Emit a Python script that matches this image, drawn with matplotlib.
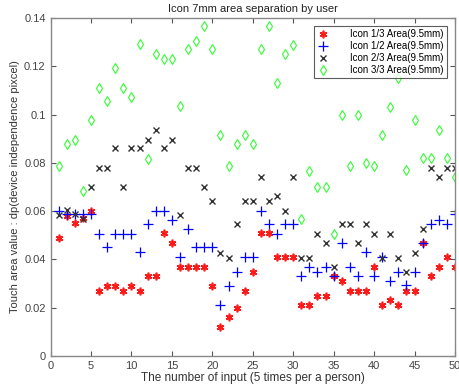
import matplotlib
matplotlib.use("Agg")
import matplotlib.pyplot as plt
import numpy as np

plt.rcParams['font.family'] = ['Liberation Sans', 'DejaVu Sans']

# input index 1..50
inputs = list(range(1, 51))

# Icon 1/3 area (red *)
area_1_3 = [0.049, 0.058, 0.055, 0.057, 0.060, 0.027, 0.029, 0.029, 0.027, 0.029,
            0.027, 0.033, 0.033, 0.051, 0.047, 0.037, 0.037, 0.037, 0.037, 0.029,
            0.012, 0.016, 0.020, 0.027, 0.035, 0.051, 0.051, 0.041, 0.041, 0.041,
            0.021, 0.021, 0.025, 0.025, 0.033, 0.031, 0.027, 0.027, 0.027, 0.037,
            0.021, 0.023, 0.021, 0.027, 0.027, 0.047, 0.033, 0.037, 0.041, 0.037]

# Icon 1/2 area (blue +)
area_1_2 = [0.060, 0.059, 0.059, 0.059, 0.059, 0.0505, 0.045, 0.0505, 0.0505, 0.0505,
            0.043, 0.0545, 0.060, 0.060, 0.0565, 0.041, 0.0525, 0.045, 0.045, 0.045,
            0.021, 0.029, 0.035, 0.041, 0.041, 0.060, 0.0545, 0.0505, 0.0545, 0.0545,
            0.033, 0.037, 0.035, 0.037, 0.033, 0.047, 0.037, 0.033, 0.043, 0.033,
            0.041, 0.031, 0.035, 0.0294, 0.035, 0.047, 0.0545, 0.0565, 0.0545, 0.059]

# Icon 2/3 area (black x)
area_2_3 = [0.0586, 0.0604, 0.0588, 0.0566, 0.070, 0.078, 0.078, 0.086, 0.070, 0.086,
            0.086, 0.0896, 0.0938, 0.086, 0.0896, 0.0586, 0.078, 0.078, 0.070, 0.0643,
            0.0428, 0.0407, 0.0546, 0.0643, 0.0643, 0.074, 0.0643, 0.0663, 0.060, 0.074,
            0.0407, 0.0407, 0.0505, 0.0469, 0.037, 0.0546, 0.0546, 0.0469, 0.0546, 0.0505,
            0.0408, 0.0505, 0.0408, 0.035, 0.0428, 0.0525, 0.078, 0.074, 0.078, 0.078]

# Icon 3/3 area (green diamond)
area_3_3 = [0.0785, 0.088, 0.0896, 0.0684, 0.0978, 0.1112, 0.1058, 0.1193, 0.1112, 0.1074,
            0.1291, 0.0818, 0.125, 0.123, 0.123, 0.1034, 0.127, 0.1306, 0.1368, 0.127,
            0.0916, 0.0785, 0.088, 0.0916, 0.088, 0.127, 0.1368, 0.1132, 0.125, 0.129,
            0.0566, 0.0765, 0.070, 0.070, 0.0505, 0.0997, 0.0785, 0.0997, 0.080, 0.0785,
            0.0916, 0.1033, 0.115, 0.077, 0.0978, 0.0819, 0.0819, 0.0936, 0.0819, 0.074]

labels = ['Icon 1/3 Area(9.5mm)', 'Icon 1/2 Area(9.5mm)',
          'Icon 2/3 Area(9.5mm)', 'Icon 3/3 Area(9.5mm)']

fig = plt.figure(figsize=(4.6, 3.88), dpi=100)
ax = fig.add_axes([0.11, 0.0825, 0.879, 0.871])

ax.plot(inputs, area_1_3, linestyle='none', marker=(6, 2, 0), markersize=5.5,
        mew=1.2, color='#ff1a1a', label=labels[0])
ax.plot(inputs, area_1_2, linestyle='none', marker='+', markersize=7,
        mew=0.9, color='#0000ff', label=labels[1])
ax.plot(inputs, area_2_3, linestyle='none', marker='x', markersize=4,
        mew=1.0, color='#333333', label=labels[2])
ax.plot(inputs, area_3_3, linestyle='none', marker='d', markersize=5.5,
        mew=0.8, color='#33ff33', markerfacecolor='none', label=labels[3])

ax.set_xlim(0, 50)
ax.set_ylim(0, 0.14)
ax.set_xticks(np.arange(0, 51, 5))
ax.set_yticks([0, 0.02, 0.04, 0.06, 0.08, 0.1, 0.12, 0.14])
ax.set_yticklabels(['0', '0.02', '0.04', '0.06', '0.08', '0.1', '0.12', '0.14'])

for s in ax.spines.values():
    s.set_color('#888888')
    s.set_linewidth(1.0)
ax.tick_params(direction='in', top=True, right=True, length=3.5, width=0.8,
               colors='#555555', labelsize=8, labelcolor='#444444')

ax.set_title('Icon 7mm area separation by user', fontsize=8, color='#222222', pad=4)
ax.set_xlabel('The number of input (5 times per a person)', fontsize=8.5,
              color='#333333', labelpad=1)
ax.set_ylabel('Touch area value : dp(device independence pixcel)', fontsize=8,
              color='#333333', labelpad=3)

leg = ax.legend(loc='upper right', fontsize=7, frameon=True, fancybox=False,
                handlelength=1.2, handletextpad=2.2, borderpad=0.35,
                labelspacing=0.2, borderaxespad=0.8)
leg.get_frame().set_edgecolor('#333333')
leg.get_frame().set_linewidth(0.8)

fig.savefig('out.png', dpi=100)
